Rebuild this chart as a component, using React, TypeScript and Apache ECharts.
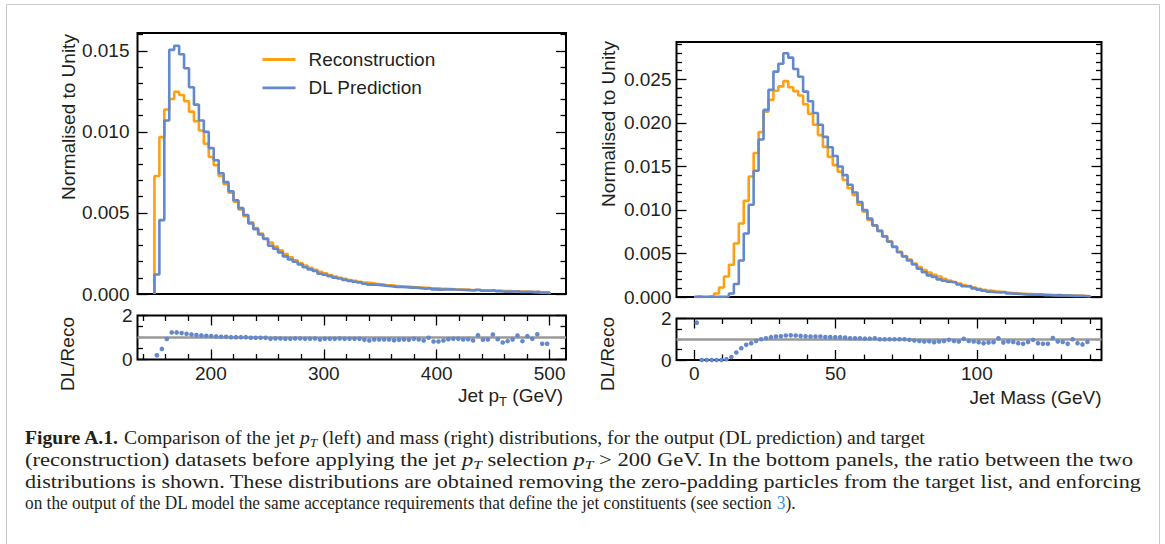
import React, { useEffect, useRef } from "react";
import * as echarts from "echarts";

// ---------------- data ----------------
const ptBinStart = 150;
const ptBinWidth = 4.375;
const massBinStart = 0;
const massBinWidth = 1.75;

const ptReco = [
  0.00728, 0.00968, 0.01138, 0.01203, 0.01248, 0.01228, 0.01189, 0.01125, 0.01066, 0.01009,
  0.00927, 0.00845, 0.00794, 0.00728, 0.00677, 0.00625, 0.0057, 0.00522, 0.0048, 0.00442,
  0.00407, 0.00373, 0.00344, 0.00317, 0.00292, 0.00269, 0.00247, 0.00227, 0.00208, 0.00191,
  0.00176, 0.00162, 0.00149, 0.00137, 0.00127, 0.00117, 0.00108, 0.001, 0.00093, 0.00086,
  0.00081, 0.00076, 0.00071, 0.00067, 0.00063, 0.0006, 0.00056, 0.00053, 0.0005, 0.00048,
  0.00046, 0.00044, 0.00042, 0.0004, 0.00038, 0.00036, 0.00035, 0.00033, 0.00032, 0.00031,
  0.00029, 0.00028, 0.00027, 0.000255, 0.000245, 0.000235, 0.000225, 0.000215, 0.000205, 0.000195,
  0.000185, 0.000175, 0.000165, 0.000155, 0.000145, 0.000135, 0.000125, 0.000115, 0.000105, 0.000098,
];
const ptDL = [
  0.0012, 0.00456, 0.0107, 0.01506, 0.01531, 0.01479, 0.01393, 0.01275, 0.01168, 0.0107,
  0.01, 0.009, 0.00825, 0.00745, 0.0069, 0.00634, 0.00578, 0.0053, 0.00487, 0.00435,
  0.004, 0.00367, 0.00339, 0.00298, 0.00279, 0.00257, 0.00232, 0.00213, 0.00199, 0.00182,
  0.00165, 0.00152, 0.00142, 0.00125, 0.00119, 0.0011, 0.00101, 0.000955, 0.00087, 0.00081,
  0.00076, 0.000715, 0.000635, 0.00058, 0.000573, 0.000546, 0.00051, 0.000482, 0.00044, 0.00043,
  0.000419, 0.000394, 0.000395, 0.000364, 0.000329, 0.000355, 0.000287, 0.000271, 0.000277, 0.000287,
  0.000273, 0.000263, 0.000246, 0.000236, 0.000212, 0.00026, 0.000201, 0.000196, 0.000233, 0.00018,
  0.000143, 0.000146, 0.00015, 0.000169, 0.000121, 0.000143, 0.000118, 0.000132, 0.000075, 0.00007,
];
const ptRatio = [
  0.19, 0.48, 0.93, 1.23, 1.23, 1.2, 1.17, 1.14, 1.11, 1.095,
  1.08, 1.065, 1.05, 1.03, 1.03, 1.015, 1.015, 1.015, 1.015, 0.985,
  0.985, 0.985, 0.985, 0.94, 0.955, 0.955, 0.94, 0.94, 0.955, 0.955,
  0.94, 0.94, 0.955, 0.91, 0.94, 0.94, 0.94, 0.955, 0.94, 0.94,
  0.94, 0.94, 0.895, 0.865, 0.91, 0.91, 0.91, 0.91, 0.88, 0.895,
  0.91, 0.895, 0.94, 0.91, 0.865, 0.985, 0.82, 0.82, 0.865, 0.925,
  0.94, 0.94, 0.91, 0.925, 0.865, 1.105, 0.895, 0.91, 1.135, 0.925,
  0.775, 0.835, 0.91, 1.09, 0.835, 1.06, 0.94, 1.15, 0.715, 0.715,
];
const massReco = [
  0.00002, 0.00003, 0.00006, 0.00012, 0.0004, 0.0011, 0.00235, 0.0037, 0.00615, 0.00845,
  0.01105, 0.01385, 0.01655, 0.01895, 0.0213, 0.02265, 0.0237, 0.0242, 0.0248, 0.0241,
  0.02365, 0.02315, 0.02215, 0.02105, 0.0198, 0.0186, 0.01725, 0.0161, 0.01515, 0.0144,
  0.01345, 0.0125, 0.0117, 0.0106, 0.0098, 0.00885, 0.0082, 0.0076, 0.007, 0.0064,
  0.0058, 0.0052, 0.0047, 0.0043, 0.00385, 0.00345, 0.0031, 0.0028, 0.00255, 0.00235,
  0.0021, 0.0019, 0.00172, 0.00155, 0.00138, 0.00123, 0.00108, 0.00095, 0.00084, 0.00074,
  0.00066, 0.0006, 0.00054, 0.00049, 0.00044, 0.0004, 0.00037, 0.00034, 0.00031, 0.00029,
  0.00027, 0.00025, 0.00023, 0.00021, 0.0002, 0.00018, 0.00017, 0.00015, 0.00014, 0.00012,
];
const massDL = [
  0.00004, 0.0, 0.0, 0.0, 0.00001, 0.00002, 0.00005, 0.0004, 0.0015, 0.0042,
  0.0073, 0.0106, 0.0145, 0.0181, 0.0215, 0.0238, 0.0259, 0.0268, 0.028, 0.0275,
  0.0262, 0.0253, 0.0236, 0.0225, 0.02115, 0.0198, 0.0184, 0.0172, 0.0162, 0.015,
  0.014, 0.0129, 0.012, 0.0109, 0.01, 0.009, 0.00825, 0.0076, 0.00695, 0.00635,
  0.00575, 0.00515, 0.00465, 0.0042, 0.00373, 0.00324, 0.00285, 0.00249, 0.0023, 0.00202,
  0.00187, 0.00175, 0.00167, 0.00143, 0.00123, 0.00125, 0.00099, 0.00085, 0.00072, 0.0006,
  0.00055, 0.00052, 0.00057, 0.00041, 0.00039, 0.00035, 0.0003, 0.00027, 0.00027, 0.00028,
  0.00022, 0.0002, 0.00018, 0.00022, 0.00018, 0.00016, 0.00013, 0.00015, 0.00011, 0.00009,
];
const massRatio = [
  1.8, 0, 0, 0, 0, 0, 0.04, 0.14, 0.36, 0.57,
  0.73, 0.81, 0.92, 1.0, 1.05, 1.1, 1.13, 1.14, 1.18, 1.19,
  1.18, 1.16, 1.14, 1.13, 1.13, 1.13, 1.11, 1.11, 1.1, 1.1,
  1.08, 1.05, 1.05, 1.05, 1.03, 1.03, 1.05, 1.0, 1.0, 1.0,
  1.0, 1.0, 1.0, 0.97, 0.94, 0.92, 0.89, 0.9, 0.86, 0.89,
  0.92, 0.97, 0.92, 0.89, 1.02, 0.92, 0.89, 0.86, 0.81, 0.84,
  0.86, 1.05, 0.84, 0.89, 0.87, 0.81, 0.78, 0.87, 0.97, 0.81,
  0.78, 0.78, 1.06, 0.89, 0.87, 0.78, 1.0, 0.81, 0.75, 0.87,
];

// tick positions / labels
const ptMainYMajor = [0, 0.005, 0.01, 0.015];
const ptMainYMinor = [0.001, 0.002, 0.003, 0.004, 0.006, 0.007, 0.008, 0.009, 0.011, 0.012, 0.013, 0.014, 0.016];
const massMainYMajor = [0, 0.005, 0.01, 0.015, 0.02, 0.025];
const massMainYMinor = [
  0.001, 0.002, 0.003, 0.004, 0.006, 0.007, 0.008, 0.009, 0.011, 0.012, 0.013, 0.014,
  0.016, 0.017, 0.018, 0.019, 0.021, 0.022, 0.023, 0.024, 0.026, 0.027, 0.028, 0.029,
];
const ratioYMajor = [0, 2];
const ratioYMinor = [0.5, 1, 1.5];
const ptXMajor = [200, 300, 400, 500];
const ptXMinor = [140, 160, 180, 220, 240, 260, 280, 320, 340, 360, 380, 420, 440, 460, 480];
const massXMajor = [0, 50, 100];
const massXMinor = [10, 20, 30, 40, 60, 70, 80, 90, 110, 120, 130, 140];

const legendNames = ["Reconstruction", "DL Prediction"];
const captionLines = [
  "{b|Figure A.1.} Comparison of the jet {i|p}{s|T} (left) and mass (right) distributions, for the output (DL prediction) and target",
  "(reconstruction) datasets before applying the jet {i|p}{s|T} selection {i|p}{s|T} > 200 GeV. In the bottom panels, the ratio between the two",
  "distributions is shown. These distributions are obtained removing the zero-padding particles from the target list, and enforcing",
  "on the output of the DL model the same acceptance requirements that define the jet constituents (see section {l|3}).",
];

// ---------------- style / layout ----------------
const ORANGE = "#FF9F12";
const BLUE = "#6388CB";
const TEXT = "#231f20";
const SANS = "'Liberation Sans', Arial, Helvetica, sans-serif";
const SERIF = "'Liberation Serif', 'Times New Roman', serif";

const PT_X = { min: 135, max: 514.5 };
const MASS_X = { min: -6.3, max: 144.1 };

const grids = [
  { left: 137.5, top: 33, width: 428.5, height: 261 }, // pt main
  { left: 137.5, top: 315.5, width: 428.5, height: 44 }, // pt ratio
  { left: 676.5, top: 42, width: 425, height: 255 }, // mass main
  { left: 676.5, top: 318.5, width: 425, height: 41.5 }, // mass ratio
];

// caption line layout (vertical centre, horizontal stretch)
const captionY = [438, 460, 481.5, 503];
const captionScaleX = [1.035, 1.19, 1.165, 0.91];

function histPoints(start: number, width: number, values: number[]) {
  const pts: number[][] = [[start, 0]];
  values.forEach((v, i) => {
    pts.push([start + i * width, v]);
    pts.push([start + (i + 1) * width, v]);
  });
  pts.push([start + values.length * width, 0]);
  return pts;
}
function binCenters(start: number, width: number, values: number[]) {
  return values.map((v, i) => [start + (i + 0.5) * width, v]);
}

const MAJOR_LEN = 10;
const MINOR_LEN = 5.5;

function tickAxis(
  base: any,
  position: string,
  ticks: number[],
  len: number,
  labels: number[] | null,
  fmt: ((v: number) => string) | null,
  margin: number
) {
  return {
    ...base,
    position,
    axisLine: { show: false, onZero: false },
    splitLine: { show: false },
    axisTick: {
      show: true,
      inside: true,
      length: len,
      customValues: ticks,
      lineStyle: { color: "#000", width: 1.3 },
    },
    axisLabel: labels
      ? {
          show: true,
          customValues: labels,
          formatter: fmt,
          fontSize: 19,
          fontFamily: SANS,
          color: TEXT,
          margin,
          showMinLabel: true,
          showMaxLabel: true,
        }
      : { show: false },
  };
}

function yAxesFor(
  gridIndex: number,
  min: number,
  max: number,
  major: number[],
  minor: number[],
  fmt: (v: number) => string,
  margin: number
) {
  const base = { type: "value", gridIndex, min, max };
  return [
    tickAxis(base, "left", major, MAJOR_LEN, major, fmt, margin),
    tickAxis(base, "left", minor, MINOR_LEN, null, null, 0),
    tickAxis(base, "right", major, MAJOR_LEN, null, null, 0),
    tickAxis(base, "right", minor, MINOR_LEN, null, null, 0),
  ];
}
function xAxesRatio(gridIndex: number, range: { min: number; max: number }, major: number[], minor: number[]) {
  const base = { type: "value", gridIndex, min: range.min, max: range.max };
  return [
    tickAxis(base, "bottom", major, MAJOR_LEN, major, (v: number) => String(v), 4),
    tickAxis(base, "bottom", minor, MINOR_LEN, null, null, 0),
    tickAxis(base, "top", major, MAJOR_LEN, null, null, 0),
    tickAxis(base, "top", minor, MINOR_LEN, null, null, 0),
  ];
}
function xAxisMain(gridIndex: number, range: { min: number; max: number }) {
  return {
    type: "value",
    gridIndex,
    min: range.min,
    max: range.max,
    show: false,
    axisLine: { show: false, onZero: false },
    splitLine: { show: false },
  };
}

const fmt3 = (v: number) => v.toFixed(3);
const fmtInt = (v: number) => String(Math.round(v));

const xAxes = [
  xAxisMain(0, PT_X), // 0
  ...xAxesRatio(1, PT_X, ptXMajor, ptXMinor), // 1-4
  xAxisMain(2, MASS_X), // 5
  ...xAxesRatio(3, MASS_X, massXMajor, massXMinor), // 6-9
];
const yAxes = [
  ...yAxesFor(0, 0, 0.0161, ptMainYMajor, ptMainYMinor, fmt3, 8), // 0-3
  ...yAxesFor(1, 0, 2, ratioYMajor, ratioYMinor, fmtInt, 5), // 4-7
  ...yAxesFor(2, 0, 0.0293, massMainYMajor, massMainYMinor, fmt3, 5), // 8-11
  ...yAxesFor(3, 0, 2, ratioYMajor, ratioYMinor, fmtInt, 5), // 12-15
];

function histSeries(name: string, color: string, xi: number, yi: number, data: number[][]) {
  return {
    type: "line",
    name,
    xAxisIndex: xi,
    yAxisIndex: yi,
    data,
    showSymbol: false,
    symbol: "none",
    color,
    lineStyle: { color, width: 2.6 },
    itemStyle: { color },
    silent: true,
  };
}
function ratioSeries(xi: number, yi: number, data: number[][]) {
  return {
    type: "scatter",
    name: "ratio",
    xAxisIndex: xi,
    yAxisIndex: yi,
    data,
    symbol: "circle",
    symbolSize: 4.6,
    itemStyle: { color: BLUE, opacity: 1 },
    silent: true,
    z: 3,
    markLine: {
      silent: true,
      symbol: "none",
      label: { show: false },
      lineStyle: { color: "#9a9a9a", width: 2.6, type: "solid" },
      data: [{ yAxis: 1 }],
      z: 2,
    },
  };
}

const axisTitle = (text: string, x: number, y: number, rotate: boolean, align = "center") => ({
  type: "text",
  x,
  y,
  rotation: rotate ? Math.PI / 2 : 0,
  style: {
    text,
    fontSize: 19,
    fontFamily: SANS,
    fill: TEXT,
    align,
    verticalAlign: "middle",
  },
});

const captionRich = {
  b: { fontSize: 19, fontFamily: SERIF, fontWeight: "bold", fill: TEXT, lineHeight: 22 },
  i: { fontSize: 19, fontFamily: SERIF, fontStyle: "italic", fill: TEXT, lineHeight: 22 },
  s: { fontSize: 13, fontFamily: SERIF, fontStyle: "italic", fill: TEXT, lineHeight: 15, verticalAlign: "bottom" },
  l: { fontSize: 19, fontFamily: SERIF, fill: "#3a93d6", lineHeight: 22 },
};

const captionGraphics = captionLines.map((line, k) => ({
  type: "text",
  x: 25,
  y: captionY[k],
  scaleX: captionScaleX[k],
  style: {
    text: line,
    fontSize: 19,
    fontFamily: SERIF,
    fill: TEXT,
    lineHeight: 22,
    align: "left",
    verticalAlign: "middle",
    rich: captionRich,
  },
}));

const option: any = {
  animation: false,
  backgroundColor: "#fff",
  grid: grids.map((g) => ({
    ...g,
    show: true,
    borderColor: "#000",
    borderWidth: 2,
    backgroundColor: "transparent",
    containLabel: false,
  })),
  xAxis: xAxes,
  yAxis: yAxes,
  legend: {
    data: legendNames,
    orient: "vertical",
    left: 257.5,
    top: 45,
    padding: 5,
    icon: "rect",
    itemWidth: 33,
    itemHeight: 2.8,
    itemGap: 9.4,
    selectedMode: false,
    textStyle: { fontSize: 19, fontFamily: SANS, color: TEXT, lineHeight: 19, padding: [0, 0, 0, 8] },
  },
  series: [
    histSeries(legendNames[0], ORANGE, 0, 0, histPoints(ptBinStart, ptBinWidth, ptReco)),
    histSeries(legendNames[1], BLUE, 0, 0, histPoints(ptBinStart, ptBinWidth, ptDL)),
    ratioSeries(1, 4, binCenters(ptBinStart, ptBinWidth, ptRatio)),
    histSeries(legendNames[0], ORANGE, 5, 8, histPoints(massBinStart, massBinWidth, massReco)),
    histSeries(legendNames[1], BLUE, 5, 8, histPoints(massBinStart, massBinWidth, massDL)),
    ratioSeries(6, 12, binCenters(massBinStart, massBinWidth, massRatio)),
  ],
  graphic: [
    {
      type: "rect",
      shape: { x: 6.5, y: 4.5, width: 1153, height: 600 },
      style: { fill: "none", stroke: "#c9c9c9", lineWidth: 1 },
      silent: true,
    },
    axisTitle("Normalised to Unity", 68, 117, true),
    axisTitle("Normalised to Unity", 608, 124, true),
    axisTitle("DL/Reco", 67, 354, true),
    axisTitle("DL/Reco", 607.5, 354, true),
    {
      type: "text",
      x: 563,
      y: 397,
      style: {
        text: "{a|Jet p}{s|T}{a| (GeV)}",
        align: "right",
        verticalAlign: "middle",
        fill: TEXT,
        rich: {
          a: { fontSize: 19, fontFamily: SANS, fill: TEXT, lineHeight: 22, verticalAlign: "top" },
          s: { fontSize: 13, fontFamily: SANS, fill: TEXT, lineHeight: 13, verticalAlign: "bottom" },
        },
      },
    },
    axisTitle("Jet Mass (GeV)", 1101.5, 397, false, "right"),
    ...captionGraphics,
  ],
};

export default function App() {
  const ref = useRef<HTMLDivElement>(null);
  useEffect(() => {
    const chart = echarts.init(ref.current!, null, { renderer: "svg", width: 1165, height: 544 });
    chart.setOption(option);
    return () => chart.dispose();
  }, []);
  return (
    <div style={{ position: "absolute", left: 0, top: 0, width: 1165, height: 544, background: "#fff" }}>
      <div ref={ref} style={{ width: 1165, height: 544 }} />
    </div>
  );
}
